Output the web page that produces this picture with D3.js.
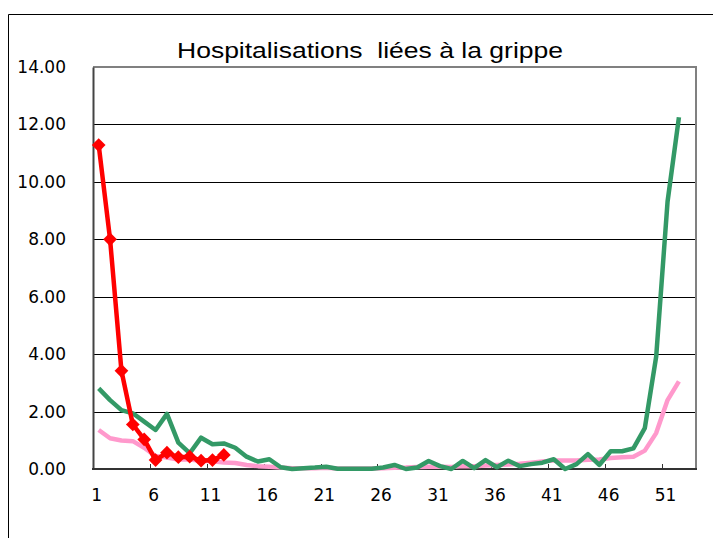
<!DOCTYPE html>
<html>
<head>
<meta charset="utf-8">
<script src="https://cdn.jsdelivr.net/npm/d3@7"></script>
<style>
  body { margin: 0; background: #fff; }
  svg { display: block; }
</style>
</head>
<body>
<svg id="chart" width="713" height="538"></svg>
<script>
// week numbers on the category axis (53 slots, 52 with data)
const weeks = d3.range(1, 54);
const tickWeeks = [1, 6, 11, 16, 21, 26, 31, 36, 41, 46, 51];
const yTicks = [0, 2, 4, 6, 8, 10, 12, 14];

// current season (red, with markers)
const current = [11.28, 8.0, 3.42, 1.55, 1.03, 0.31, 0.57, 0.41, 0.43, 0.29, 0.31, 0.49];

// previous season (green)
const previous = [
  2.81, 2.40, 2.05, 1.94, 1.65, 1.36, 1.92, 0.92, 0.55, 1.09,
  0.86, 0.89, 0.74, 0.43, 0.26, 0.34, 0.06, 0.00, 0.03, 0.05,
  0.08, 0.01, 0.01, 0.01, 0.01, 0.05, 0.14, 0.00, 0.05, 0.28,
  0.10, 0.00, 0.28, 0.03, 0.31, 0.06, 0.29, 0.10, 0.17, 0.22,
  0.34, 0.00, 0.17, 0.52, 0.14, 0.62, 0.62, 0.72, 1.42, 3.91,
  9.31, 12.25
];

// average of past seasons (pink)
const average = [
  1.36, 1.07, 0.99, 0.97, 0.74, 0.45, 0.40, 0.33, 0.33, 0.29,
  0.27, 0.23, 0.21, 0.14, 0.10, 0.08, 0.05, 0.03, 0.03, 0.03,
  0.04, 0.02, 0.02, 0.02, 0.02, 0.03, 0.04, 0.05, 0.07, 0.08,
  0.08, 0.07, 0.10, 0.10, 0.12, 0.14, 0.16, 0.18, 0.22, 0.26,
  0.30, 0.30, 0.30, 0.32, 0.33, 0.38, 0.41, 0.43, 0.64, 1.25,
  2.40, 3.05
];

const font = "'Century Gothic', 'DejaVu Sans', sans-serif";
const svg = d3.select("#chart");

const plot = { left: 93, right: 696, top: 67, bottom: 469 };

const x = d3.scaleBand().domain(weeks).range([plot.left, plot.right]);
const y = d3.scaleLinear().domain([0, 14]).range([plot.bottom, plot.top]);
const cx = w => x(w) + x.bandwidth() / 2;

// outer chart frame (cut off at right and bottom)
svg.append("path")
  .attr("d", "M8.5,538 L8.5,14.5 L713,14.5")
  .attr("fill", "none")
  .attr("stroke", "#000")
  .attr("stroke-width", 1);

// title
svg.append("text")
  .attr("x", 177)
  .attr("y", 58)
  .attr("font-family", "'Liberation Sans', Arial, sans-serif")
  .attr("font-size", "22px")
  .attr("textLength", 386)
  .attr("lengthAdjust", "spacingAndGlyphs")
  .attr("fill", "#000")
  .style("white-space", "pre")
  .text("Hospitalisations  liées à la grippe");

// gridlines
svg.append("g")
  .selectAll("line")
  .data(yTicks.filter(d => d > 0 && d < 14))
  .join("line")
  .attr("x1", plot.left)
  .attr("x2", plot.right)
  .attr("y1", d => Math.round(y(d)) + 0.5)
  .attr("y2", d => Math.round(y(d)) + 0.5)
  .attr("stroke", "#000")
  .attr("stroke-width", 1);

// plot border (top / right grey)
svg.append("path")
  .attr("d", `M${plot.left},${plot.top} L${plot.right},${plot.top} L${plot.right},${plot.bottom}`)
  .attr("fill", "none")
  .attr("stroke", "#808080")
  .attr("stroke-width", 2);

// y axis
const yAxis = d3.axisLeft(y)
  .tickValues(yTicks)
  .tickSize(0)
  .tickPadding(27)
  .tickFormat(d3.format(".2f"));
const gy = svg.append("g")
  .attr("transform", `translate(${plot.left},0)`)
  .call(yAxis);
gy.select(".domain").attr("stroke", "#444").attr("stroke-width", 2);
gy.selectAll("text")
  .attr("font-family", font)
  .attr("font-size", "17px")
  .attr("fill", "#000");

// x axis: ticks on category boundaries, labels centred on categories
const gx = svg.append("g");
gx.append("line")
  .attr("x1", plot.left - 1)
  .attr("x2", plot.right + 1)
  .attr("y1", plot.bottom)
  .attr("y2", plot.bottom)
  .attr("stroke", "#333")
  .attr("stroke-width", 2);
gx.selectAll("line.tick")
  .data(tickWeeks.filter(w => w > 1))
  .join("line")
  .attr("class", "tick")
  .attr("x1", w => Math.round(x(w)) + 0.5)
  .attr("x2", w => Math.round(x(w)) + 0.5)
  .attr("y1", plot.bottom)
  .attr("y2", plot.bottom - 5)
  .attr("stroke", "#333")
  .attr("stroke-width", 1);
gx.selectAll("text")
  .data(tickWeeks)
  .join("text")
  .attr("x", w => cx(w) - 2)
  .attr("y", 501)
  .attr("text-anchor", "middle")
  .attr("font-family", font)
  .attr("font-size", "17px")
  .attr("fill", "#000")
  .text(w => w);

// series lines
const line = d3.line()
  .x((d, i) => cx(weeks[i]))
  .y(d => y(d));

const series = [
  { values: average, color: "#FF99CC" },
  { values: previous, color: "#339966" },
  { values: current, color: "#FF0000" }
];

svg.append("g")
  .selectAll("path")
  .data(series)
  .join("path")
  .attr("d", d => line(d.values))
  .attr("fill", "none")
  .attr("stroke", d => d.color)
  .attr("stroke-width", 4.5)
  .attr("stroke-linejoin", "round");

// diamond markers for current season
const diamond = d3.symbol().type(d3.symbolDiamond2).size(120);
svg.append("g")
  .selectAll("path")
  .data(current)
  .join("path")
  .attr("d", diamond)
  .attr("transform", (d, i) => `translate(${cx(weeks[i])},${y(d)})`)
  .attr("fill", "#FF0000");
</script>
</body>
</html>
